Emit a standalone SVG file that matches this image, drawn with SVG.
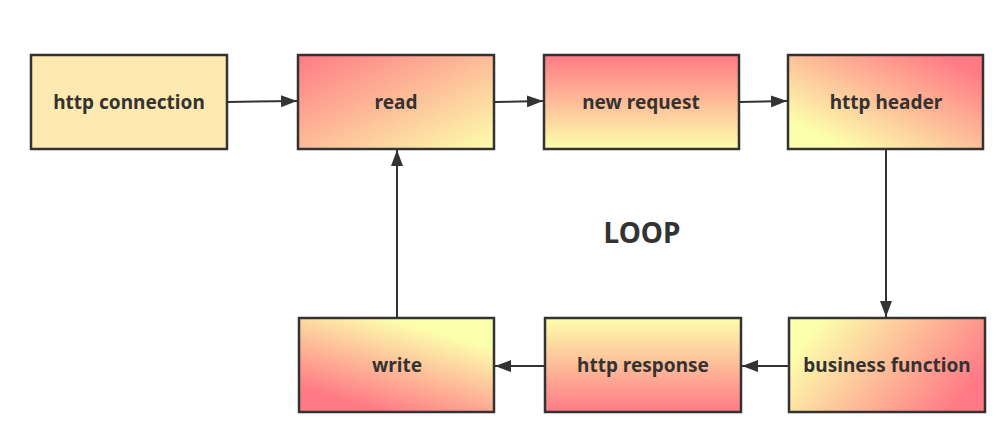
<svg xmlns="http://www.w3.org/2000/svg" width="1005" height="446" viewBox="0 0 1005 446">
<style>
.box{stroke:#333333;stroke-width:2.5}
.lbl{font-family:"Noto Sans","Open Sans","DejaVu Sans",sans-serif;font-weight:bold;font-size:19px;fill:#333333;text-anchor:middle}
.conn{stroke:#333333;stroke-width:2;fill:none}
</style>
<defs>
<marker id="arr" viewBox="0 0 16 12" refX="16" refY="6" markerWidth="16" markerHeight="12" markerUnits="userSpaceOnUse" orient="auto">
<path d="M0,0 L16,6 L0,12 Z" fill="#333333"/>
</marker>
<linearGradient id="gRead" x1="0" y1="0" x2="1" y2="1"><stop offset="0" stop-color="#FF7A85"/><stop offset="1" stop-color="#FCFFAC"/></linearGradient>
<linearGradient id="gNew" x1="0" y1="0" x2="0" y2="1"><stop offset="0" stop-color="#FF7A85"/><stop offset="1" stop-color="#FCFFAC"/></linearGradient>
<linearGradient id="gHeader" x1="1" y1="0" x2="0" y2="1"><stop offset="0.1" stop-color="#FF7A85"/><stop offset="0.85" stop-color="#FCFFAC"/></linearGradient>
<linearGradient id="gWrite" x1="0.8" y1="0" x2="0.2" y2="1"><stop offset="0.15" stop-color="#FCFFAC"/><stop offset="0.9" stop-color="#FF7A85"/></linearGradient>
<linearGradient id="gResp" x1="0" y1="0" x2="0" y2="1"><stop offset="0" stop-color="#FCFFAC"/><stop offset="1" stop-color="#FF7A85"/></linearGradient>
<linearGradient id="gBiz" x1="0" y1="0.3" x2="1" y2="0.7"><stop offset="0.05" stop-color="#FCFFAC"/><stop offset="0.95" stop-color="#FF7A85"/></linearGradient>
</defs>
<rect width="1005" height="446" fill="#ffffff"/>
<g id="connectors">
<line class="conn" x1="228" y1="102" x2="297" y2="101" marker-end="url(#arr)"/>
<line class="conn" x1="495" y1="102" x2="543" y2="101" marker-end="url(#arr)"/>
<line class="conn" x1="740" y1="102" x2="787" y2="101" marker-end="url(#arr)"/>
<line class="conn" x1="886" y1="150" x2="886" y2="317" marker-end="url(#arr)"/>
<line class="conn" x1="788" y1="366" x2="742" y2="366" marker-end="url(#arr)"/>
<line class="conn" x1="544" y1="366" x2="495" y2="366" marker-end="url(#arr)"/>
<line class="conn" x1="397" y1="317" x2="397" y2="150" marker-end="url(#arr)"/>
</g>
<g id="node-http-connection">
<rect class="box" x="31" y="55" width="196" height="94" fill="#FEE9B0"/>
<text class="lbl" x="129" y="109">http connection</text>
</g>
<g id="node-read">
<rect class="box" x="298" y="55" width="196" height="94" fill="url(#gRead)"/>
<text class="lbl" x="396" y="109">read</text>
</g>
<g id="node-new-request">
<rect class="box" x="544" y="55" width="195" height="94" fill="url(#gNew)"/>
<text class="lbl" x="641" y="109">new request</text>
</g>
<g id="node-http-header">
<rect class="box" x="788" y="55" width="195" height="94" fill="url(#gHeader)"/>
<text class="lbl" x="886" y="109">http header</text>
</g>
<g id="node-write">
<rect class="box" x="299" y="318" width="195" height="94" fill="url(#gWrite)"/>
<text class="lbl" x="397" y="372">write</text>
</g>
<g id="node-http-response">
<rect class="box" x="545" y="318" width="196" height="94" fill="url(#gResp)"/>
<text class="lbl" x="643" y="372">http response</text>
</g>
<g id="node-business-function">
<rect class="box" x="789" y="318" width="196" height="94" fill="url(#gBiz)"/>
<text class="lbl" x="887" y="372">business function</text>
</g>
<text x="642" y="243" font-family="Noto Sans,Open Sans,DejaVu Sans,sans-serif" font-weight="bold" font-size="28" fill="#333333" text-anchor="middle">LOOP</text>
</svg>
